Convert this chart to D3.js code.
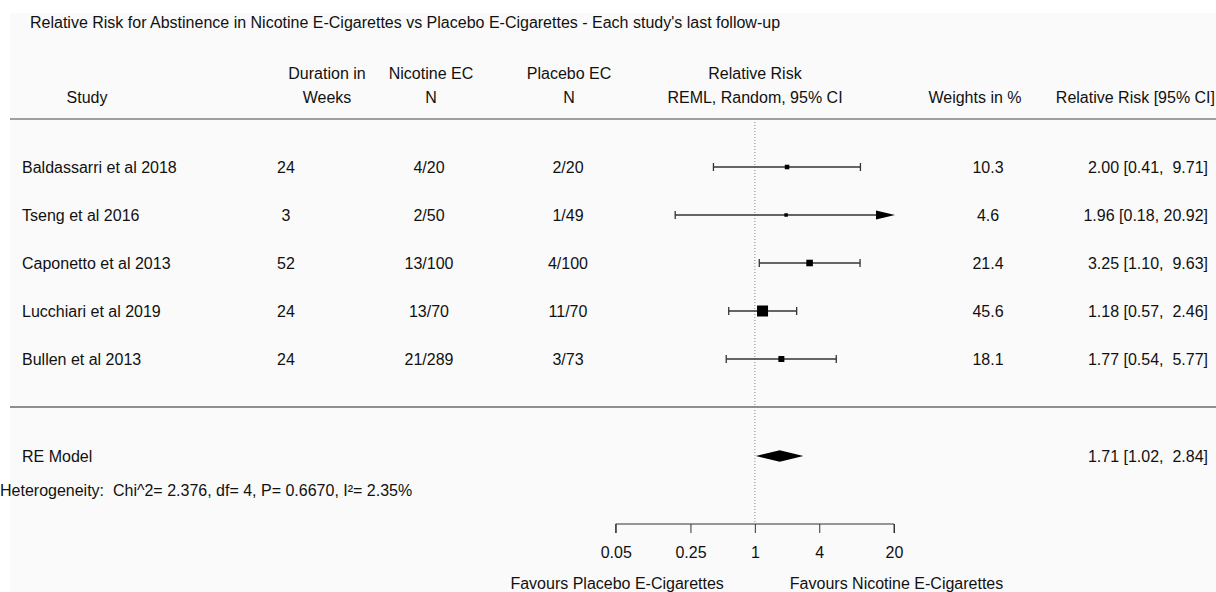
<!DOCTYPE html>
<html>
<head>
<meta charset="utf-8">
<script src="https://cdn.jsdelivr.net/npm/d3@7"></script>
<style>
  html, body { margin: 0; padding: 0; background: #ffffff; }
  svg { display: block; font-family: "Liberation Sans", Arial, sans-serif; }
  text { white-space: pre; }
</style>
</head>
<body>
<svg id="chart" width="1216" height="592"></svg>
<script>
// ---- Data ----
const studies = ["Baldassarri et al 2018", "Tseng et al 2016", "Caponetto et al 2013", "Lucchiari et al 2019", "Bullen et al 2013"];
const durations = ["24", "3", "52", "24", "24"];
const nicotineN = ["4/20", "2/50", "13/100", "13/70", "21/289"];
const placeboN = ["2/20", "1/49", "4/100", "11/70", "3/73"];
const rr = [2.00, 1.96, 3.25, 1.18, 1.77];
const ciLow = [0.41, 0.18, 1.10, 0.57, 0.54];
const ciHigh = [9.71, 20.92, 9.63, 2.46, 5.77];
const weights = [10.3, 4.6, 21.4, 45.6, 18.1];
const pooled = { label: "RE Model", est: 1.71, lo: 1.02, hi: 2.84 };
const tickValues = [0.05, 0.25, 1, 4, 20];
const titleText = "Relative Risk for Abstinence in Nicotine E-Cigarettes vs Placebo E-Cigarettes - Each study's last follow-up";
const heteroText = "Heterogeneity:  Chi^2= 2.376, df= 4, P= 0.6670, I\u00B2= 2.35%";

// ---- Layout ----
const svg = d3.select("#chart");
const W = 1216, H = 592;
svg.append("rect").attr("x", 10).attr("y", 13).attr("width", W - 10).attr("height", H - 13).attr("fill", "#fafafa");

const x = d3.scaleLog().domain([0.05, 20]).range([615.7, 894]);
const y = d3.scaleLinear().domain([0, 4]).range([167, 359]);
const yPooled = 456;
const fs = 16;

const txt = (tx, ty, s, anchor) => svg.append("text").attr("x", tx).attr("y", ty)
  .attr("text-anchor", anchor || "start").attr("font-size", fs).attr("fill", "#111").attr("dy", "0.35em").text(s);

// title
txt(30, 22, titleText);

// headers
const h1 = 73, h2 = 97;
txt(87, h2, "Study", "middle");
txt(327, h1, "Duration in", "middle");
txt(327, h2, "Weeks", "middle");
txt(431, h1, "Nicotine EC", "middle");
txt(431, h2, "N", "middle");
txt(569, h1, "Placebo EC", "middle");
txt(569, h2, "N", "middle");
txt(755, h1, "Relative Risk", "middle");
txt(755, h2, "REML, Random, 95% CI", "middle");
txt(975, h2, "Weights in %", "middle");
txt(1215, h2, "Relative Risk [95% CI]", "end");

// horizontal rules
svg.append("line").attr("x1", 10).attr("x2", W).attr("y1", 119).attr("y2", 119).attr("stroke", "#444").attr("stroke-width", 1.2);
svg.append("line").attr("x1", 10).attr("x2", W).attr("y1", 407).attr("y2", 407).attr("stroke", "#222").attr("stroke-width", 1.2);

// reference line at 1
svg.append("line").attr("x1", x(1)).attr("x2", x(1)).attr("y1", 122).attr("y2", 524)
  .attr("stroke", "#888").attr("stroke-width", 1).attr("stroke-dasharray", "1,2");

const fmt2 = d3.format(".2f");
const pad = v => { const s = fmt2(v); return s.length < 5 ? " " + s : s; };
const sizeScale = d3.scaleLinear().domain([d3.min(weights), d3.max(weights)]).range([3.5, 11]);

studies.forEach((s, i) => {
  const yy = y(i);
  txt(22, yy, s);
  txt(286, yy, durations[i], "middle");
  txt(429, yy, nicotineN[i], "middle");
  txt(568, yy, placeboN[i], "middle");
  txt(988, yy, d3.format(".1f")(weights[i]), "middle");
  txt(1208, yy, fmt2(rr[i]) + " [" + fmt2(ciLow[i]) + ", " + pad(ciHigh[i]) + "]", "end");

  const lo = Math.max(ciLow[i], 0.05), hi = Math.min(ciHigh[i], 20);
  const xl = x(lo), xh = x(hi);
  const arrowR = ciHigh[i] > 20;
  svg.append("line").attr("x1", xl).attr("x2", arrowR ? xh - 12 : xh).attr("y1", yy).attr("y2", yy)
    .attr("stroke", "#333").attr("stroke-width", 1.3);
  svg.append("line").attr("x1", xl).attr("x2", xl).attr("y1", yy - 4).attr("y2", yy + 4).attr("stroke", "#333").attr("stroke-width", 1.3);
  if (arrowR) {
    svg.append("path").attr("d", `M${xh - 18},${yy - 4.5} L${xh + 1},${yy} L${xh - 18},${yy + 4.5} Z`).attr("fill", "#000");
  } else {
    svg.append("line").attr("x1", xh).attr("x2", xh).attr("y1", yy - 4).attr("y2", yy + 4).attr("stroke", "#333").attr("stroke-width", 1.3);
  }
  const sz = sizeScale(weights[i]);
  svg.append("rect").attr("x", x(rr[i]) - sz / 2).attr("y", yy - sz / 2).attr("width", sz).attr("height", sz).attr("fill", "#000");
});

// pooled
txt(22, yPooled, pooled.label);
svg.append("path").attr("d", `M${x(pooled.lo)},${yPooled} L${x(pooled.est)},${yPooled - 5.7} L${x(pooled.hi)},${yPooled} L${x(pooled.est)},${yPooled + 5.7} Z`).attr("fill", "#000");
txt(1208, yPooled, fmt2(pooled.est) + " [" + fmt2(pooled.lo) + ", " + pad(pooled.hi) + "]", "end");

// heterogeneity
txt(0, 490, heteroText);

// axis
const axis = d3.axisBottom(x).tickValues(tickValues).tickFormat(d => String(d)).tickSize(9).tickPadding(14);
const gA = svg.append("g").attr("transform", "translate(0,524)").call(axis);
gA.select(".domain").attr("stroke", "#333").attr("d", `M${x(0.05)},9V0H${x(20)}V9`);
gA.selectAll(".tick line").attr("stroke", "#333");
gA.selectAll(".tick text").attr("font-size", fs).attr("fill", "#111").attr("font-family", "Liberation Sans, Arial, sans-serif");

txt(x(1) - 31, 583, "Favours Placebo E-Cigarettes", "end");
txt(x(1) + 35, 583, "Favours Nicotine E-Cigarettes", "start");
</script>
</body>
</html>
